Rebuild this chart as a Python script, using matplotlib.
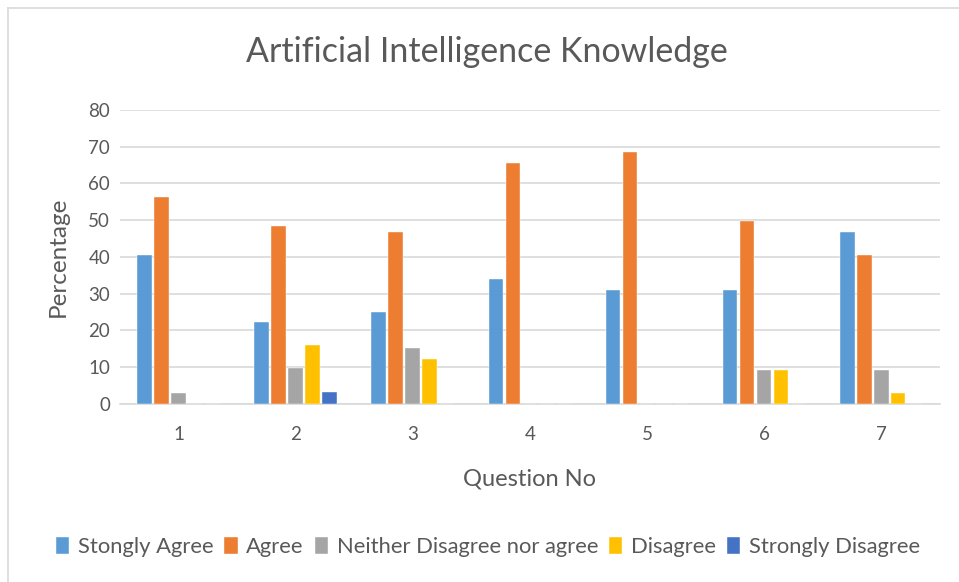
import numpy as np
from matplotlib import pyplot as plt
from matplotlib.lines import Line2D

plt.rcParams['font.family'] = ['Lato', 'DejaVu Sans']

# Survey answers per question (percent)
questions = ['1', '2', '3', '4', '5', '6', '7']
strongly_agree = [40.6, 22.4, 24.9, 34.0, 31.0, 31.0, 46.7]
agree = [56.4, 48.5, 46.7, 65.6, 68.6, 49.9, 40.5]
neither = [3.1, 9.7, 15.3, 0, 0, 9.2, 9.2]
disagree = [0, 16.1, 12.2, 0, 0, 9.2, 3.1]
strongly_disagree = [0, 3.2, 0, 0, 0, 0, 0]

series = [
    ('Stongly Agree', strongly_agree, '#5B9BD5'),
    ('Agree', agree, '#ED7D31'),
    ('Neither Disagree nor agree', neither, '#A5A5A5'),
    ('Disagree', disagree, '#FFC000'),
    ('Strongly Disagree', strongly_disagree, '#4472C4'),
]

txt = '#595959'

fig = plt.figure(figsize=(9.59, 5.82), dpi=100)
ax = fig.add_axes([0.125, 0.306, 0.855, 0.505])

x = np.arange(len(questions))
slot = 0.145
for i, (name, vals, col) in enumerate(series):
    ax.bar(x + (i - 2) * slot, vals, width=0.124, color=col, label=name,
           edgecolor='white', linewidth=0.3, zorder=3)

ax.set_xlim(-0.5, len(questions) - 0.5)
ax.set_ylim(0, 80)
ax.set_yticks(np.arange(0, 81, 10))
ax.set_xticks(x)
ax.set_xticklabels(questions)
ax.grid(axis='y', color='#D9D9D9', linewidth=1.2, zorder=0)
for s in ['top', 'right', 'left']:
    ax.spines[s].set_visible(False)
ax.spines['bottom'].set_color('#D9D9D9')
ax.spines['bottom'].set_linewidth(1.2)
ax.tick_params(axis='both', length=0, labelsize=13.5, labelcolor=txt)
ax.tick_params(axis='y', pad=7)
ax.tick_params(axis='x', pad=16)

ax.set_xlabel('Question No', fontsize=17, color=txt, labelpad=18)
ax.set_ylabel('Percentage', fontsize=17.5, color=txt, labelpad=14)
fig.text(0.508, 0.91, 'Artificial Intelligence Knowledge', ha='center', va='center',
         fontsize=24.5, color=txt)

ax.legend(loc='center', bbox_to_anchor=(0.509, 0.06), bbox_transform=fig.transFigure,
          ncol=5, frameon=False, fontsize=15.8, labelcolor=txt,
          handlelength=0.6, handleheight=0.8, handletextpad=0.4, columnspacing=0.5)

# thin frame visible at top and left edges
fig.add_artist(Line2D([8 / 959, 1], [1 - 8 / 582, 1 - 8 / 582], color='#D9D9D9', lw=1.2,
                      transform=fig.transFigure))
fig.add_artist(Line2D([8 / 959, 8 / 959], [0, 1 - 8 / 582], color='#D9D9D9', lw=1.2,
                      transform=fig.transFigure))

fig.savefig('out.png', dpi=100)
